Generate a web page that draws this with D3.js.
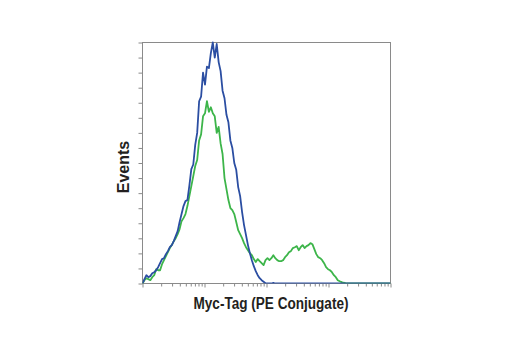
<!DOCTYPE html>
<html>
<head>
<meta charset="utf-8">
<script src="https://cdn.jsdelivr.net/npm/d3@7/dist/d3.min.js"></script>
<style>
  html, body { margin: 0; padding: 0; background: #ffffff; }
  svg { display: block; }
  .lbl { font-family: "Liberation Sans", Arial, Helvetica, sans-serif; font-weight: bold; font-size: 16px; fill: #231f20; }
</style>
</head>
<body>
<svg id="chart" width="520" height="350"></svg>
<script>
// Histogram acquired on a 4-decade log scale, 128 channels
const CHANNELS = 128;
const DECADES = 4;

// Counts per channel: unstained control (blue) and Myc-Tag PE stained (green)
const controlCounts = [
  0, 2.9, 5.5, 4.2, 4.9, 6.8, 7.5, 8.8, 10.8, 13.5,
  16.2, 16.8, 19.5, 21.5, 24.1, 25.5, 28.1, 31.4, 34.8, 40.8,
  46.1, 51.4, 54.7, 55.4, 65.0, 76.0, 79.0, 92.0, 100.0, 121.0,
  124.0, 140.0, 132.0, 144.0, 143.0, 153.0, 160.0, 150.0, 159.0, 147.0,
  141.0, 128.0, 123.0, 112.0, 107.0, 95.0, 90.0, 80.0, 75.5, 64.0,
  58.0, 47.4, 38.8, 32.1, 25.5, 20.1, 15.5, 11.5, 8.2, 5.5,
  3.5, 2.2, 1.2, 0.2, 0, 0, 0, 0.4, 0, 0,
  0, 0, 0, 0, 0, 0, 0, 0, 0, 0,
  0, 0, 0, 0, 0, 0, 0, 0, 0, 0,
  0, 0, 0, 0, 0, 0, 0, 0, 0, 0,
  0, 0, 0, 0, 0, 0, 0, 0, 0, 0,
  0, 0, 0, 0, 0, 0, 0, 0, 0, 0,
  0, 0, 0, 0, 0, 0, 0, 0
];

const stainedCounts = [
  0, 2.2, 3.5, 2.9, 2.2, 4.2, 5.5, 9.5, 8.8, 8.8,
  12.8, 15.5, 18.2, 20.8, 23.5, 25.5, 28.1, 30.1, 32.8, 36.1,
  41.4, 43.4, 46.1, 51.4, 58.0, 64.7, 71.3, 78.0, 82.0, 95.0,
  99.0, 111.0, 113.0, 121.0, 114.0, 117.0, 113.0, 111.0, 100.0, 104.0,
  93.0, 86.0, 70.0, 62.7, 55.4, 50.1, 48.7, 46.1, 40.8, 35.4,
  32.8, 30.1, 26.8, 24.1, 22.1, 20.1, 18.8, 16.2, 14.2, 16.2,
  14.8, 13.5, 12.2, 15.5, 16.8, 15.5, 16.8, 18.8, 16.8, 15.5,
  14.8, 14.8, 15.5, 17.5, 18.8, 20.8, 21.5, 23.5, 24.1, 24.8,
  22.1, 24.1, 25.5, 23.5, 24.8, 25.5, 26.8, 26.1, 22.8, 19.5,
  17.5, 16.8, 15.5, 13.5, 10.8, 9.5, 8.8, 7.5, 5.5, 4.2,
  2.2, 1.5, 0.9, 0.5, 0.2, 0, 0, 0, 0, 0,
  0, 0, 0, 0, 0, 0, 0, 0, 0, 0,
  0, 0, 0, 0, 0, 0, 0, 0
];

const xDomain = [1, 10000];
const yDomain = [0, 160];
const yTickStep = 10;

const seriesColors = { control: "#2b4ea2", stained: "#3db54a" };
const xTitle = "Myc-Tag (PE Conjugate)";
const yTitle = "Events";

// Channel index -> fluorescence intensity on the log scale
const channelIntensity = ch => Math.pow(10, ch * DECADES / (CHANNELS - 1));

const plot = { left: 142.5, top: 42.5, right: 390.5, bottom: 283.5 };

const svg = d3.select("#chart");

const x = d3.scaleLog().domain(xDomain).range([plot.left, plot.right]);
const y = d3.scaleLinear().domain(yDomain).range([plot.bottom, plot.top]);

const axisColor = "#8a8a8a";

// Y axis: unlabeled ticks every 10 events
const yAxis = d3.axisLeft(y)
  .tickValues(d3.range(yDomain[0], yDomain[1] + 1, yTickStep))
  .tickFormat("")
  .tickSize(4)
  .tickSizeOuter(0);
const gy = svg.append("g").attr("transform", `translate(${plot.left},0)`).call(yAxis);
gy.select(".domain").remove();
gy.selectAll(".tick line").attr("stroke", axisColor);

// X axis: log decades with minor ticks
const decadeTicks = x.ticks().filter(v => Math.abs(Math.log10(v) - Math.round(Math.log10(v))) < 1e-9);
const minorTicks = x.ticks().filter(v => !decadeTicks.includes(v));

const gxMinor = svg.append("g").attr("transform", `translate(0,${plot.bottom})`)
  .call(d3.axisBottom(x).tickValues(minorTicks).tickFormat("").tickSize(3).tickSizeOuter(0));
gxMinor.select(".domain").remove();
gxMinor.selectAll(".tick line").attr("stroke", axisColor);

const gxMajor = svg.append("g").attr("transform", `translate(0,${plot.bottom})`)
  .call(d3.axisBottom(x).tickValues(decadeTicks).tickFormat("").tickSize(4).tickSizeOuter(0));
gxMajor.select(".domain").remove();
gxMajor.selectAll(".tick line").attr("stroke", axisColor);

// Frame
svg.append("rect")
  .attr("x", plot.left).attr("y", plot.top)
  .attr("width", plot.right - plot.left).attr("height", plot.bottom - plot.top)
  .attr("fill", "none").attr("stroke", axisColor).attr("stroke-width", 1);

// Histogram traces
const line = d3.line()
  .x((d, i) => x(channelIntensity(i)))
  .y(d => y(d));

svg.append("clipPath").attr("id", "plotclip")
  .append("rect")
  .attr("x", plot.left).attr("y", plot.top - 2)
  .attr("width", plot.right - plot.left).attr("height", plot.bottom - plot.top + 2);

const traces = svg.append("g").attr("clip-path", "url(#plotclip)");

traces.append("path")
  .datum(stainedCounts)
  .attr("d", line)
  .attr("fill", "none")
  .attr("stroke", seriesColors.stained)
  .attr("stroke-width", 1.8)
  .attr("stroke-linejoin", "round");

traces.append("path")
  .datum(controlCounts)
  .attr("d", line)
  .attr("fill", "none")
  .attr("stroke", seriesColors.control)
  .attr("stroke-width", 1.8)
  .attr("stroke-linejoin", "round");

// Axis titles
svg.append("text")
  .attr("class", "lbl")
  .attr("x", 271).attr("y", 308.5)
  .attr("text-anchor", "middle")
  .attr("textLength", 155)
  .attr("lengthAdjust", "spacingAndGlyphs")
  .text(xTitle);

svg.append("text")
  .attr("class", "lbl")
  .attr("transform", "translate(129,167) rotate(-90)")
  .attr("text-anchor", "middle")
  .text(yTitle);
</script>
</body>
</html>
